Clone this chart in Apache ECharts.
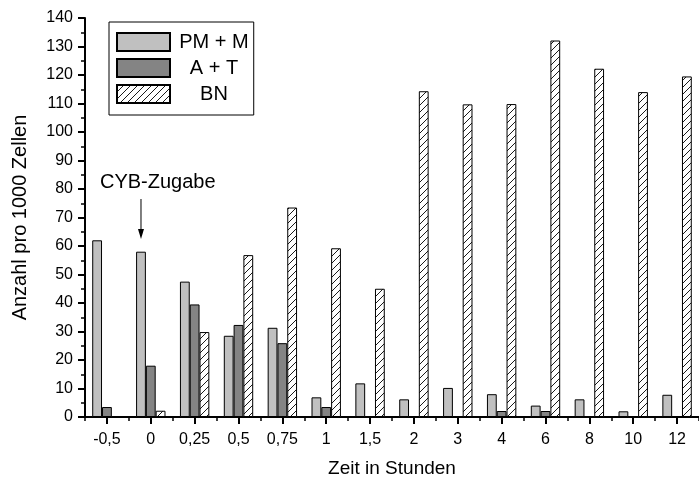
<!DOCTYPE html>
<html>
<head>
<meta charset="utf-8">
<script src="https://cdn.jsdelivr.net/npm/echarts@6/dist/echarts.min.js"></script>
<style>
  html, body { margin: 0; padding: 0; background: #fff; }
  #chart { width: 699px; height: 483px; }
</style>
</head>
<body>
<div id="chart"></div>
<script>
const categories = ["-0,5", "0", "0,25", "0,5", "0,75", "1", "1,5", "2", "3", "4", "6", "8", "10", "12"];
const pmM = [62, 58, 47.5, 28.5, 31.3, 6.9, 11.8, 6.2, 10.2, 8, 4, 6.2, 2, 7.8];
const aT = [3.5, 18, 39.5, 32.3, 25.9, 3.5, null, null, null, 2.1, 2.1, null, null, null];
const bn = [null, 2.2, 29.8, 56.8, 73.5, 59.2, 45, 114.3, 109.7, 109.8, 132.1, 122.2, 114, 119.5];

const FONT = "Liberation Sans, Arial, sans-serif";

// hatch pattern for BN
function hatch() {
  const c = document.createElement("canvas");
  c.width = 7; c.height = 7;
  const g = c.getContext("2d");
  g.fillStyle = "#fff";
  g.fillRect(0, 0, 7, 7);
  g.strokeStyle = "#000";
  g.lineWidth = 0.9;
  g.beginPath();
  g.moveTo(0, 7); g.lineTo(7, 0);
  g.moveTo(-2, 2); g.lineTo(2, -2);
  g.moveTo(5, 9); g.lineTo(9, 5);
  g.stroke();
  return c;
}

const chart = echarts.init(document.getElementById("chart"));
const barW = 9.8;
const border = { borderColor: "#000", borderWidth: 1 };

chart.setOption({
  animation: false,
  backgroundColor: "#fff",
  textStyle: { fontFamily: FONT, color: "#000" },
  grid: { left: 85, right: -6, top: 18, bottom: 65, containLabel: false },
  legend: {
    orient: "vertical",
    left: 109,
    top: 22,
    padding: [10, 5, 11, 7],
    itemGap: 6,
    itemWidth: 53,
    itemHeight: 18,
    borderColor: "#000",
    borderWidth: 1,
    icon: "rect",
    data: ["PM + M", "A + T", "BN"],
    formatter: (n) => "{c|" + n + "}",
    textStyle: {
      rich: { c: { width: 78, align: "center", fontSize: 20, fontFamily: FONT, color: "#000" } }
    }
  },
  xAxis: [
    {
      type: "category",
      data: categories,
      axisLine: { lineStyle: { color: "#000", width: 2 } },
      axisTick: { show: true, alignWithLabel: true, length: 7, lineStyle: { color: "#000", width: 2 } },
      axisLabel: { fontSize: 16, color: "#000", margin: 15, fontFamily: FONT },
      name: "Zeit in Stunden",
      nameLocation: "middle",
      nameGap: 42,
      nameTextStyle: { fontSize: 19, color: "#000", fontFamily: FONT }
    },
    {
      type: "category",
      data: categories,
      position: "bottom",
      axisLine: { show: false },
      axisTick: { show: true, length: 4, lineStyle: { color: "#000", width: 1.5 } },
      axisLabel: { show: false }
    }
  ],
  yAxis: {
    type: "value",
    min: 0,
    max: 140,
    interval: 10,
    axisLine: { show: true, lineStyle: { color: "#000", width: 2 } },
    axisTick: { show: true, length: 7, lineStyle: { color: "#000", width: 2 } },
    minorTick: { show: true, splitNumber: 2, length: 4, lineStyle: { color: "#000", width: 1.5 } },
    splitLine: { show: false },
    axisLabel: { fontSize: 16, color: "#000", margin: 12, fontFamily: FONT },
    name: "Anzahl pro 1000 Zellen",
    nameLocation: "middle",
    nameGap: 55,
    nameTextStyle: { fontSize: 20, color: "#000", fontFamily: FONT }
  },
  series: [
    { name: "PM + M", type: "bar", data: pmM, barWidth: barW, barGap: "0%",
      itemStyle: Object.assign({ color: "#c0c0c0" }, border) },
    { name: "A + T", type: "bar", data: aT, barWidth: barW, barGap: "0%",
      itemStyle: Object.assign({ color: "#848484" }, border) },
    { name: "BN", type: "bar", data: bn, barWidth: barW, barGap: "0%",
      itemStyle: Object.assign({ color: { image: hatch(), repeat: "repeat" } }, border) }
  ]
});

// annotation: text + arrow above the PM + M bar at t = 0
const p = chart.convertToPixel({ xAxisIndex: 0, yAxisIndex: 0 }, ["0", 62]);
const ax = p[0] - barW;
chart.setOption({
  graphic: [
    { type: "text", left: 100, top: 172,
      style: { text: "CYB-Zugabe", font: "20px " + FONT, fill: "#000" } },
    { type: "line", shape: { x1: ax, y1: 199, x2: ax, y2: 232 },
      style: { stroke: "#000", lineWidth: 1 } },
    { type: "polygon", shape: { points: [[ax - 3, 229], [ax + 3, 229], [ax, 239]] },
      style: { fill: "#000" } }
  ]
});
</script>
</body>
</html>
